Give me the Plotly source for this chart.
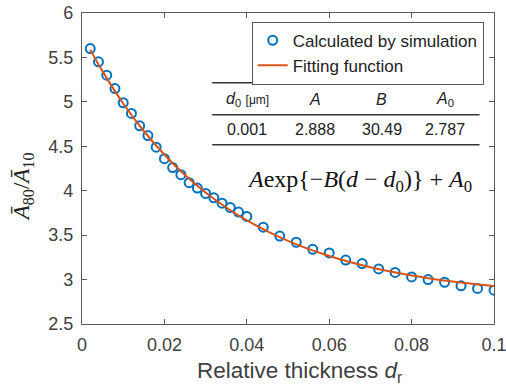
import plotly.graph_objects as go

# Simulation data
sim_x = [0.002, 0.004, 0.006, 0.008, 0.010, 0.012, 0.014, 0.016, 0.018, 0.020,
         0.022, 0.024, 0.026, 0.028, 0.030, 0.032, 0.034, 0.036, 0.038, 0.040,
         0.044, 0.048, 0.052, 0.056, 0.060, 0.064, 0.068, 0.072, 0.076, 0.080,
         0.084, 0.088, 0.092, 0.096, 0.100]
sim_y = [5.60, 5.45, 5.30, 5.15, 4.99, 4.87, 4.73, 4.62, 4.49, 4.36,
         4.26, 4.18, 4.09, 4.03, 3.97, 3.92, 3.86, 3.81, 3.76, 3.71,
         3.59, 3.49, 3.42, 3.34, 3.30, 3.22, 3.18, 3.12, 3.08, 3.03,
         3.00, 2.97, 2.93, 2.90, 2.88]

# Fitting-function curve
fit_x = [0.002, 0.005, 0.010, 0.015, 0.020, 0.025, 0.030, 0.035, 0.040,
         0.050, 0.060, 0.070, 0.080, 0.090, 0.100]
fit_y = [5.588, 5.343, 4.982, 4.672, 4.405, 4.176, 3.980, 3.811, 3.666,
         3.435, 3.265, 3.139, 3.047, 2.978, 2.928]

x_ticks = [0, 0.02, 0.04, 0.06, 0.08, 0.1]
x_tick_text = ["0", "0.02", "0.04", "0.06", "0.08", "0.1"]
y_ticks = [2.5, 3, 3.5, 4, 4.5, 5, 5.5, 6]
y_tick_text = ["2.5", "3", "3.5", "4", "4.5", "5", "5.5", "6"]

table_header = ["<i>d</i><sub>0</sub> <span style='font-size:12px'>[μm]</span>",
                "<i>A</i>", "<i>B</i>", "<i>A</i><sub>0</sub>"]
table_values = ["0.001", "2.888", "30.49", "2.787"]

BLUE = "#0072BD"
ORANGE = "#D95319"
AXC = "#5a5a5a"
TXT = "#404040"
SANS = "Liberation Sans, Arial"
SERIF = "Liberation Serif, Times New Roman"

fig = go.Figure()
fig.add_trace(go.Scatter(
    x=sim_x, y=sim_y, mode="markers", name="Calculated by simulation",
    marker=dict(symbol="circle-open", size=9, color=BLUE, line=dict(width=2, color=BLUE)),
))
fig.add_trace(go.Scatter(
    x=fit_x, y=fit_y, mode="lines", name="Fitting function",
    line=dict(color=ORANGE, width=2, shape="spline"),
))

axis_common = dict(
    showline=True, linecolor=AXC, linewidth=1.3, mirror="ticks",
    ticks="inside", ticklen=5, tickcolor=AXC, showgrid=False, zeroline=False,
    automargin=False, ticklabeloverflow="allow",
    tickfont=dict(family=SANS, size=18, color=TXT),
)

fig.update_layout(
    width=506, height=387,
    margin=dict(l=82, r=12, t=13, b=63, autoexpand=False),
    paper_bgcolor="white", plot_bgcolor="white",
    showlegend=True,
    legend=dict(
        x=0.975, y=0.972, xanchor="right", yanchor="top",
        bgcolor="white", bordercolor=AXC, borderwidth=1,
        font=dict(family=SANS, size=17, color="#222222"),
        tracegroupgap=0, itemwidth=30,
    ),
    xaxis=dict(range=[0, 0.1], tickvals=x_ticks, ticktext=x_tick_text,
               ticklabelstandoff=4, **axis_common),
    yaxis=dict(range=[2.5, 6], tickvals=y_ticks, ticktext=y_tick_text,
               ticklabelstandoff=4, **axis_common),
)

# axis titles
fig.add_annotation(xref="paper", yref="paper", x=0.527, y=-0.153,
                   xanchor="center", yanchor="middle", showarrow=False,
                   text="Relative thickness <i>d</i><sub>r</sub>",
                   font=dict(family=SANS, size=22.5, color=TXT))
fig.add_annotation(xref="paper", yref="paper", x=-0.143, y=0.44,
                   xanchor="center", yanchor="middle", showarrow=False, textangle=-90,
                   text="<i>Ā</i><sub>80</sub>/<i>Ā</i><sub>10</sub>",
                   font=dict(family=SERIF, size=23, color="#222222"))

# table lines
for yy in [0.776, 0.673, 0.5765]:
    fig.add_shape(type="line", xref="paper", yref="paper", x0=0.316, x1=0.965,
                  y0=yy, y1=yy, line=dict(color="#333333", width=1.5))

col_x = [0.401, 0.566, 0.728, 0.881]
for cx, h, v in zip(col_x, table_header, table_values):
    fig.add_annotation(xref="paper", yref="paper", x=cx, y=0.721, text=h, showarrow=False,
                       xanchor="center", yanchor="middle",
                       font=dict(family=SANS, size=16, color="#222222"))
    fig.add_annotation(xref="paper", yref="paper", x=cx, y=0.625, text=v, showarrow=False,
                       xanchor="center", yanchor="middle",
                       font=dict(family=SANS, size=16, color="#222222"))

fig.add_annotation(xref="paper", yref="paper", x=0.395, y=0.4585,
                   xanchor="left", yanchor="middle",
                   text="<i>A</i>exp{−<i>B</i>(<i>d</i> − <i>d</i><sub>0</sub>)} + <i>A</i><sub>0</sub>",
                   showarrow=False,
                   font=dict(family=SERIF, size=24, color="#111111"))

fig.write_html("out.html", config={"displayModeBar": False},
               post_script="document.body.style.margin='0';")
